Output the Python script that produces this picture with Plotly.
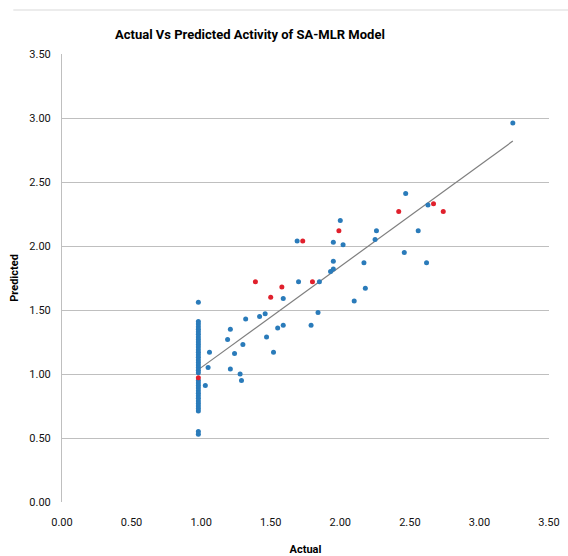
import plotly.graph_objects as go
import numpy as np

# Training set (blue)
cluster_y = [1.56, 1.41, 1.39, 1.37, 1.35, 1.33, 1.31, 1.29, 1.27, 1.25, 1.23, 1.21,
             1.19, 1.17, 1.15, 1.13, 1.11, 1.09, 1.07, 1.05, 1.03, 1.01, 0.95, 0.93,
             0.91, 0.89, 0.87, 0.85, 0.83, 0.81, 0.79, 0.77, 0.75, 0.73, 0.71, 0.55, 0.53]
other_x = [1.06, 1.05, 1.03, 1.21, 1.19, 1.24, 1.21, 1.28, 1.29, 1.30, 1.32, 1.42,
           1.46, 1.47, 1.52, 1.55, 1.59, 1.59, 1.70, 1.69, 1.95, 2.00, 2.02, 2.25,
           2.26, 1.95, 1.93, 1.95, 1.85, 2.18, 2.10, 1.84, 1.79, 2.17, 2.47, 2.63,
           2.56, 2.46, 2.62, 3.24]
other_y = [1.17, 1.05, 0.91, 1.35, 1.27, 1.16, 1.04, 1.00, 0.95, 1.23, 1.43, 1.45,
           1.47, 1.29, 1.17, 1.36, 1.38, 1.59, 1.72, 2.04, 2.03, 2.20, 2.01, 2.05,
           2.12, 1.88, 1.80, 1.82, 1.72, 1.67, 1.57, 1.48, 1.38, 1.87, 2.41, 2.32,
           2.12, 1.95, 1.87, 2.96]
train_actual = [0.98] * len(cluster_y) + other_x
train_pred = cluster_y + other_y

# Test set (red)
test_actual = [0.98, 1.39, 1.50, 1.58, 1.73, 1.80, 1.99, 2.42, 2.67, 2.74]
test_pred = [0.97, 1.72, 1.60, 1.68, 2.04, 1.72, 2.12, 2.27, 2.33, 2.27]

# Linear trendline
trend_slope = 0.79
trend_intercept = 0.26

tick_vals = [0, 0.5, 1.0, 1.5, 2.0, 2.5, 3.0, 3.5]
tick_text = ["0.00", "0.50", "1.00", "1.50", "2.00", "2.50", "3.00", "3.50"]

tx = np.array([min(train_actual), max(train_actual)])
ty = trend_slope * tx + trend_intercept

fig = go.Figure()
fig.add_trace(go.Scatter(x=tx, y=ty, mode="lines",
                         line=dict(color="#7F7F7F", width=1.2), hoverinfo="skip"))
fig.add_trace(go.Scatter(x=train_actual, y=train_pred, mode="markers",
                         marker=dict(color="#2A7BBA", size=5)))
fig.add_trace(go.Scatter(x=test_actual, y=test_pred, mode="markers",
                         marker=dict(color="#E0202C", size=5)))

font_family = "Liberation Sans Narrow, Roboto, Arial"
fig.update_layout(
    width=568, height=556,
    margin=dict(l=62, r=19, t=54, b=54),
    paper_bgcolor="white", plot_bgcolor="white",
    showlegend=False,
    title=dict(text="<b>Actual Vs Predicted Activity of SA-MLR Model</b>",
               x=0.44, xanchor="center", xref="container",
               y=1 - 34 / 556, yanchor="middle", yref="container",
               font=dict(family=font_family, size=13, color="#000000")),
    xaxis=dict(range=[0, 3.5], tickvals=tick_vals, ticktext=tick_text,
               automargin=False,
               showgrid=False, zeroline=False, showline=False, ticks="",
               ticklabelstandoff=12,
               tickfont=dict(family=font_family, size=11, color="#111111"),
               title=dict(text="<b>Actual</b>", standoff=18,
                          font=dict(family=font_family, size=11, color="#000000"))),
    yaxis=dict(range=[0, 3.5], tickvals=tick_vals, ticktext=tick_text,
               automargin=False,
               showgrid=True, gridcolor="#BFBFBF", gridwidth=1,
               zeroline=False, showline=True, linecolor="#BFBFBF", linewidth=1,
               ticks="", ticklabelstandoff=8,
               tickfont=dict(family=font_family, size=11, color="#111111"),
               title=dict(text="<b>Predicted</b>", standoff=8,
                          font=dict(family=font_family, size=11, color="#000000"))),
    shapes=[dict(type="line", xref="paper", yref="paper",
                 x0=-0.1, x1=1.05, y0=1 + 44 / 448, y1=1 + 44 / 448,
                 line=dict(color="#D9D9D9", width=1))],
)

fig.write_html("out.html")
